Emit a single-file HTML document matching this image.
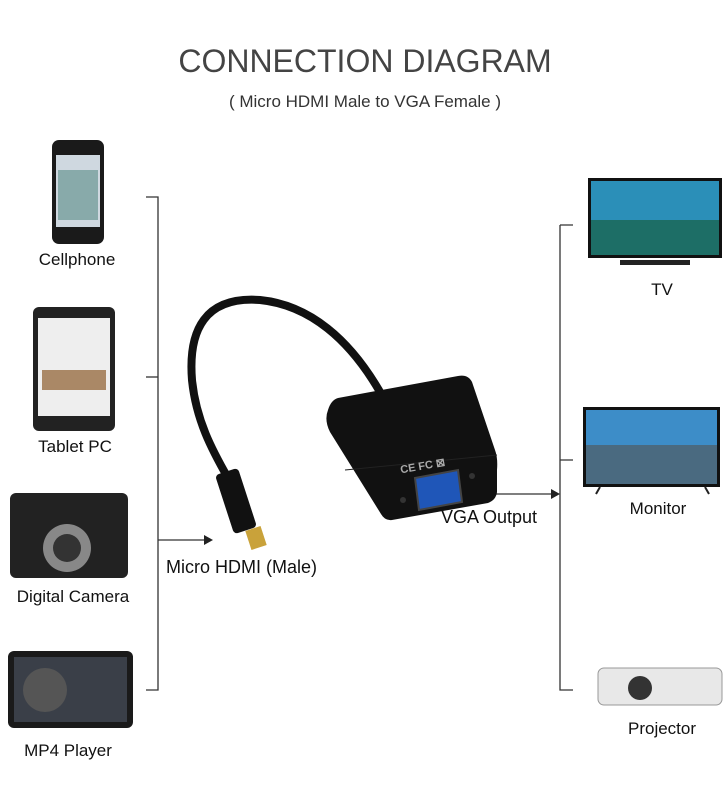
<!DOCTYPE html>
<html><head><meta charset="utf-8"><style>
html,body{margin:0;padding:0;background:#fff;}
svg{display:block;font-family:"Liberation Sans",sans-serif;}
</style></head><body>
<svg width="728" height="800" viewBox="0 0 728 800" xmlns="http://www.w3.org/2000/svg">
<rect width="728" height="800" fill="#fff"/>
<text x="365" y="72" text-anchor="middle" font-size="32" fill="#444">CONNECTION DIAGRAM</text>
<text x="365" y="107" text-anchor="middle" font-size="17" fill="#333">( Micro HDMI  Male to VGA Female )</text>

<g stroke="#333" stroke-width="1.3" fill="none">
<path d="M146 197 H158 V690 H146"/>
<path d="M146 377 H158"/>
<path d="M158 540 H206"/>
<path d="M560 225 H573 M560 225 V690 H573 M560 460 H573"/>
<path d="M465 494 H552"/>
</g>
<polygon points="213,540 204,535 204,545" fill="#222"/>
<polygon points="560,494 551,489 551,499" fill="#222"/>

<rect x="52" y="140" width="52" height="104" rx="7" fill="#1a1a1a"/>
<rect x="56" y="155" width="44" height="72" fill="#cfd8e0"/>
<rect x="58" y="170" width="40" height="50" fill="#8aa"/>
<text x="77" y="265" text-anchor="middle" font-size="17" fill="#111">Cellphone</text>

<rect x="33" y="307" width="82" height="124" rx="6" fill="#222"/>
<rect x="38" y="318" width="72" height="98" fill="#eee"/>
<rect x="42" y="370" width="64" height="20" fill="#a86"/>
<text x="75" y="452" text-anchor="middle" font-size="17" fill="#111">Tablet PC</text>

<rect x="10" y="493" width="118" height="85" rx="6" fill="#222"/>
<circle cx="67" cy="548" r="24" fill="#888"/>
<circle cx="67" cy="548" r="14" fill="#333"/>
<text x="73" y="602" text-anchor="middle" font-size="17" fill="#111">Digital Camera</text>

<rect x="8" y="651" width="125" height="77" rx="6" fill="#1a1a1a"/>
<rect x="14" y="657" width="113" height="65" fill="#3a3f48"/>
<circle cx="45" cy="690" r="22" fill="#555"/>
<text x="68" y="756" text-anchor="middle" font-size="17" fill="#111">MP4 Player</text>

<rect x="588" y="178" width="134" height="80" fill="#111"/>
<rect x="591" y="181" width="128" height="74" fill="#2b8fb8"/>
<rect x="591" y="220" width="128" height="35" fill="#1d6e66"/>
<rect x="620" y="260" width="70" height="5" fill="#222"/>
<text x="662" y="295" text-anchor="middle" font-size="17" fill="#111">TV</text>

<rect x="583" y="407" width="137" height="80" fill="#111"/>
<rect x="586" y="410" width="131" height="74" fill="#3d8dc8"/>
<rect x="586" y="445" width="131" height="39" fill="#4a6a80"/>
<path d="M600 487 L596 494 M705 487 L709 494" stroke="#222" stroke-width="2"/>
<text x="658" y="514" text-anchor="middle" font-size="17" fill="#111">Monitor</text>

<rect x="598" y="668" width="124" height="37" rx="6" fill="#e8e8e8" stroke="#999"/>
<circle cx="640" cy="688" r="12" fill="#333"/>
<text x="662" y="734" text-anchor="middle" font-size="17" fill="#111">Projector</text>

<!-- cable -->
<path d="M380 392 C350 340 310 305 260 300 C205 296 188 330 192 380 C196 420 212 450 228 478" stroke="#111" stroke-width="8" fill="none" stroke-linecap="round"/>
<rect x="224" y="470" width="24" height="62" rx="4" fill="#111" transform="rotate(-18 236 501)"/>
<rect x="248" y="528" width="16" height="20" fill="#c9a23a" transform="rotate(-18 256 538)"/>

<!-- adapter -->
<path d="M338 398 L458 376 Q468 374 472 382 L495 450 Q498 458 497 470 L497 492 Q496 500 488 503 L392 520 Q385 521 381 514 L330 432 Q324 420 328 410 Q331 400 338 398Z" fill="#111"/>
<path d="M345 470 L497 455" stroke="#222" stroke-width="1"/>
<polygon points="415,478 458,470 462,502 419,510" fill="#1f56b8" stroke="#444" stroke-width="2"/>
<circle cx="403" cy="500" r="3" fill="#333"/>
<circle cx="472" cy="476" r="3" fill="#333"/>
<text x="400" y="470" font-size="11" font-weight="bold" fill="#aaa" transform="rotate(-10 420 466)">CE FC ⊠</text>

<text x="441" y="523" font-size="18" fill="#111">VGA Output</text>
<text x="166" y="573" font-size="18" fill="#111">Micro HDMI (Male)</text>
</svg>
</body></html>
